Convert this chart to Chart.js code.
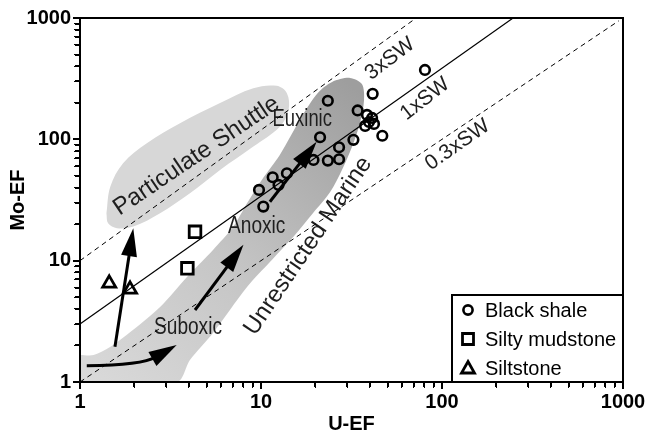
<!DOCTYPE html>
<html>
<head>
<meta charset="utf-8">
<script src="https://cdn.jsdelivr.net/npm/chart.js@4.4.1/dist/chart.umd.min.js"></script>
<style>
  html, body { margin: 0; padding: 0; background: #fff; }
</style>
</head>
<body>
<canvas id="chart" width="657" height="436"></canvas>
<script>
// --- DATA (U-EF on x, Mo-EF on y) ---
const blackShaleU  = [80.5, 41.4, 23.4, 34.2, 38.5, 41.1, 39.5, 37.6, 42.1, 46.8, 21.2, 32.4, 27.0, 19.5, 23.4, 27.0, 13.9, 11.6, 12.5, 9.75, 10.3];
const blackShaleMo = [373, 237, 208, 173, 159, 150, 139, 129, 134, 107, 104, 99, 86, 67.6, 66.8, 68.5, 52.5, 48.7, 42.1, 38.3, 27.9];
const mudstoneU  = [4.32, 3.92];
const mudstoneMo = [17.3, 8.65];
const siltstoneU  = [1.45, 1.89];
const siltstoneMo = [6.5, 5.8];

// seawater Mo/U reference lines (end points)
const sw3U = [1, 72],  sw3Mo = [10, 1000];
const sw1U = [1, 247], sw1Mo = [3.0, 1000];
const sw03U = [1, 950], sw03Mo = [1, 950];

// field outlines
const shuttleU  = [1.40, 1.47, 1.73, 2.34, 3.57, 5.94, 9.07, 12.2, 13.9, 14.2, 12.7, 9.07, 5.94, 4.05, 2.77, 1.97, 1.60, 1.43, 1.40];
const shuttleMo = [24.6, 40.7, 63.6, 92.9, 136, 199, 264, 276, 240, 175, 127, 87.1, 55.9, 35.9, 24.6, 19.1, 18.5, 20.3, 24.6];
const marineU  = [1, 1.19, 1.465, 1.96, 2.77, 3.90, 5.43, 7.0, 8.37, 10.1, 12.7, 16.8, 20.6, 24.7, 31.0, 36.1,
                  37.1, 35.2, 31.8, 28.0, 24.1, 19.4, 15.4, 11.2, 8.37, 5.43, 4.05, 3.43, 1, 1];
const marineMo = [1.67, 1.67, 1.94, 2.68, 4.15, 7.34, 12.25, 18.9, 29.7, 46.3, 74.4, 154, 241, 297, 321, 286,
                  211, 136, 86.6, 56.0, 36.8, 24.7, 16.3, 9.75, 6.07, 2.54, 1.52, 1, 1, 1.67];

// trend arrows: from -> to
const arrowFromU  = [1.56, 4.32, 11.2];
const arrowFromMo = [1.95, 3.92, 30.6];
const arrowToU    = [1.97, 8.0, 20.3];
const arrowToMo   = [18.5, 13.5, 95.6];
// curved suboxic arrow: start, control, tip
const curveU  = [1.09, 2.2, 3.42];
const curveMo = [1.36, 1.38, 2.02];

// region / line labels
const labelText = ['Particulate Shuttle', 'Unrestricted Marine', 'Euxinic', 'Anoxic', 'Suboxic', '3xSW', '1xSW', '0.3xSW'];
const labelU    = [4.4, 18.2, 16.9, 9.47, 3.95, 51.6, 80.5, 121.8];
const labelMo   = [73, 13.2, 145, 19.1, 2.79, 460, 215, 90];

const tickValues = [1, 10, 100, 1000];
const minorSteps = [1, 2, 3, 4, 5, 6, 7, 8, 9];

// --- STYLE ---
const FONT = "'Liberation Sans', Arial, sans-serif";
const labelStyle = [
  { angle: -34, size: 24, squeeze: 1 },
  { angle: -56, size: 24, squeeze: 1 },
  { angle: 0,   size: 23, squeeze: 0.8 },
  { angle: 0,   size: 23, squeeze: 0.83 },
  { angle: 0,   size: 23, squeeze: 0.83 },
  { angle: -37, size: 21, squeeze: 1 },
  { angle: -38, size: 21, squeeze: 1 },
  { angle: -35, size: 21, squeeze: 1 }
];

const zip = (xs, ys) => xs.map((x, i) => ({ x: x, y: ys[i] }));

function bandGradient(context) {
  const chart = context.chart;
  if (!chart.chartArea) return '#c0c0c0';
  const xs = chart.scales.x, ys = chart.scales.y;
  const g = chart.ctx.createLinearGradient(
    xs.getPixelForValue(1), ys.getPixelForValue(1),
    xs.getPixelForValue(30), ys.getPixelForValue(300));
  g.addColorStop(0, '#dadada');
  g.addColorStop(0.45, '#c6c6c6');
  g.addColorStop(1, '#9e9e9e');
  return g;
}

function drawArrowHead(ctx, x0, y0, x1, y1) {
  const a = Math.atan2(y1 - y0, x1 - x0);
  const len = 28, half = 8;
  ctx.beginPath();
  ctx.moveTo(x1, y1);
  ctx.lineTo(x1 - len * Math.cos(a) + half * Math.sin(a), y1 - len * Math.sin(a) - half * Math.cos(a));
  ctx.lineTo(x1 - len * Math.cos(a) - half * Math.sin(a), y1 - len * Math.sin(a) + half * Math.cos(a));
  ctx.closePath();
  ctx.fill();
  return { bx: x1 - (len - 4) * Math.cos(a), by: y1 - (len - 4) * Math.sin(a) };
}

function drawArrows(chart) {
  const ctx = chart.ctx, xs = chart.scales.x, ys = chart.scales.y;
  ctx.save();
  ctx.fillStyle = '#000';
  ctx.strokeStyle = '#000';
  ctx.lineWidth = 3;
  arrowFromU.forEach((u, i) => {
    const x0 = xs.getPixelForValue(u), y0 = ys.getPixelForValue(arrowFromMo[i]);
    const x1 = xs.getPixelForValue(arrowToU[i]), y1 = ys.getPixelForValue(arrowToMo[i]);
    const b = drawArrowHead(ctx, x0, y0, x1, y1);
    ctx.beginPath();
    ctx.moveTo(x0, y0);
    ctx.lineTo(b.bx, b.by);
    ctx.stroke();
  });
  // curved one
  const p = curveU.map((u, i) => ({ x: xs.getPixelForValue(u), y: ys.getPixelForValue(curveMo[i]) }));
  const b = drawArrowHead(ctx, p[1].x, p[1].y, p[2].x, p[2].y);
  ctx.beginPath();
  ctx.moveTo(p[0].x, p[0].y);
  ctx.quadraticCurveTo(p[1].x, p[1].y, b.bx, b.by);
  ctx.stroke();
  ctx.restore();
}

function drawLabels(chart) {
  const ctx = chart.ctx, xs = chart.scales.x, ys = chart.scales.y;
  ctx.save();
  ctx.fillStyle = '#1e1e1e';
  ctx.textAlign = 'center';
  ctx.textBaseline = 'middle';
  labelText.forEach((t, i) => {
    const st = labelStyle[i];
    ctx.save();
    ctx.translate(xs.getPixelForValue(labelU[i]), ys.getPixelForValue(labelMo[i]));
    ctx.rotate(st.angle * Math.PI / 180);
    ctx.scale(st.squeeze, 1);
    ctx.font = st.size + 'px ' + FONT;
    ctx.fillText(t, 0, 0);
    ctx.restore();
  });
  ctx.restore();
}

// outward tick marks along the left and bottom axes
function drawAxisTicks(chart) {
  const ctx = chart.ctx, a = chart.chartArea;
  const xs = chart.scales.x, ys = chart.scales.y;
  ctx.save();
  ctx.strokeStyle = '#000';
  ctx.lineWidth = 2;
  ctx.beginPath();
  xs.ticks.forEach(t => {
    const px = Math.round(xs.getPixelForValue(t.value));
    const len = tickValues.includes(t.value) ? 7 : 5;
    ctx.moveTo(px, a.bottom);
    ctx.lineTo(px, a.bottom + len);
  });
  ys.ticks.forEach(t => {
    const py = Math.round(ys.getPixelForValue(t.value));
    const len = tickValues.includes(t.value) ? 7 : 5;
    ctx.moveTo(a.left, py);
    ctx.lineTo(a.left - len, py);
  });
  ctx.stroke();
  ctx.restore();
}

function drawMarker(ctx, style, x, y) {
  ctx.beginPath();
  if (style === 'circle') {
    ctx.lineWidth = 2.6;
    ctx.arc(x, y, 4.6, 0, Math.PI * 2);
  } else if (style === 'rect') {
    ctx.lineWidth = 2.8;
    ctx.rect(x - 5.5, y - 5.5, 11, 11);
  } else {
    ctx.lineWidth = 2.8;
    ctx.moveTo(x, y - 6.5);
    ctx.lineTo(x + 6.5, y + 5);
    ctx.lineTo(x - 6.5, y + 5);
    ctx.closePath();
  }
  ctx.stroke();
}

const overlay = {
  id: 'overlay',
  afterDatasetDraw(chart, args) {
    // arrows + labels go above the grey fields, under lines and points
    if (chart.data.datasets[args.index].label !== 'Unrestricted field') return;
    drawLabels(chart);
    drawArrows(chart);
  },
  afterDraw(chart) {
    const ctx = chart.ctx, a = chart.chartArea;
    drawAxisTicks(chart);
    ctx.save();
    // frame
    ctx.strokeStyle = '#000';
    ctx.lineWidth = 2;
    ctx.strokeRect(a.left, a.top, a.right - a.left, a.bottom - a.top);
    // legend box
    const w = 171, h = 87;
    const lx = a.right - w, ly = a.bottom - h;
    ctx.fillStyle = '#fff';
    ctx.fillRect(lx, ly, w, h);
    ctx.strokeRect(lx, ly, w, h);
    ctx.fillStyle = '#000';
    ctx.font = '20px ' + FONT;
    ctx.textAlign = 'left';
    ctx.textBaseline = 'middle';
    const items = chart.data.datasets.filter(d => d.type === 'scatter');
    items.forEach((d, i) => {
      const yy = ly + 15 + i * 29;
      drawMarker(ctx, d.pointStyle, lx + 16, yy);
      ctx.fillText(d.label, lx + 33, yy + 1);
    });
    ctx.restore();
  }
};

const axisTicks = (v) => tickValues.includes(v) ? String(v) : '';
const logTicks = (s) => {
  const list = [];
  tickValues.slice(0, -1).forEach(d => minorSteps.forEach(k => list.push({ value: d * k })));
  list.push({ value: tickValues[tickValues.length - 1] });
  s.ticks = list;
};

const tickFont = { family: FONT, size: 20, weight: 'bold' };

new Chart(document.getElementById('chart'), {
  data: {
    datasets: [
      { type: 'scatter', label: 'Black shale', data: zip(blackShaleU, blackShaleMo),
        pointStyle: 'circle', pointRadius: 4.8, borderWidth: 2.6, borderColor: '#000',
        backgroundColor: 'rgba(0,0,0,0)', order: 0 },
      { type: 'scatter', label: 'Silty mudstone', data: zip(mudstoneU, mudstoneMo),
        pointStyle: 'rect', pointRadius: 8.2, borderWidth: 2.8, borderColor: '#000',
        backgroundColor: 'rgba(0,0,0,0)', order: 0 },
      { type: 'scatter', label: 'Siltstone', data: zip(siltstoneU, siltstoneMo),
        pointStyle: 'triangle', pointRadius: 7.5, borderWidth: 2.8, borderColor: '#000',
        backgroundColor: 'rgba(0,0,0,0)', order: 0 },
      { type: 'line', label: '3xSW', data: zip(sw3U, sw3Mo), borderColor: '#000', borderWidth: 1,
        borderDash: [5, 4], pointRadius: 0, fill: false, tension: 0, order: 5 },
      { type: 'line', label: '1xSW', data: zip(sw1U, sw1Mo), borderColor: '#000', borderWidth: 1.2,
        pointRadius: 0, fill: false, tension: 0, order: 5 },
      { type: 'line', label: '0.3xSW', data: zip(sw03U, sw03Mo), borderColor: '#000', borderWidth: 1,
        borderDash: [5, 4], pointRadius: 0, fill: false, tension: 0, order: 5 },
      { type: 'line', label: 'Unrestricted field', data: zip(marineU, marineMo),
        borderColor: 'rgba(0,0,0,0)', borderWidth: 0, backgroundColor: bandGradient,
        fill: 'shape', pointRadius: 0, tension: 0.3, order: 10 },
      { type: 'line', label: 'Shuttle field', data: zip(shuttleU, shuttleMo),
        borderColor: 'rgba(0,0,0,0)', borderWidth: 0, backgroundColor: '#d7d7d7',
        fill: 'shape', pointRadius: 0, tension: 0.35, order: 11 }
    ]
  },
  options: {
    responsive: false,
    animation: false,
    events: [],
    layout: { padding: { top: 18, right: 34, left: 0, bottom: 0 } },
    plugins: { legend: { display: false }, tooltip: { enabled: false } },
    scales: {
      x: {
        type: 'logarithmic', min: 1, max: 1000, position: 'bottom',
        afterBuildTicks: logTicks,
        afterFit: (s) => { s.height = 54; },
        border: { color: '#000', width: 2 },
        grid: { drawOnChartArea: false, tickLength: 6, color: '#000' },
        ticks: { autoSkip: false, maxRotation: 0, color: '#000', padding: 2,
                 font: tickFont, callback: axisTicks },
        title: { display: true, text: 'U-EF', color: '#000', padding: { top: 0, bottom: 0 },
                 font: tickFont }
      },
      y: {
        type: 'logarithmic', min: 1, max: 1000, position: 'left',
        afterBuildTicks: logTicks,
        afterFit: (s) => { s.width = 80; },
        border: { color: '#000', width: 2 },
        grid: { drawOnChartArea: false, tickLength: 6, color: '#000' },
        ticks: { autoSkip: false, color: '#000', padding: 3,
                 font: tickFont, callback: axisTicks },
        title: { display: true, text: 'Mo-EF', color: '#000', padding: { top: 6, bottom: 0 },
                 font: tickFont }
      }
    }
  },
  plugins: [overlay]
});
</script>
</body>
</html>
